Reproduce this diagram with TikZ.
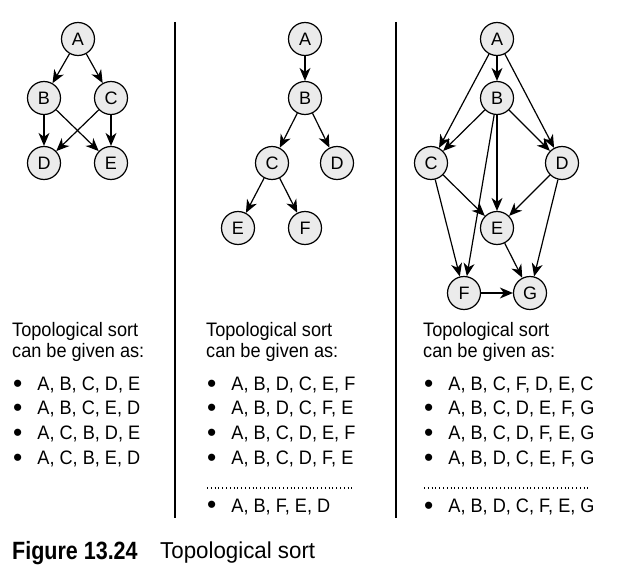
\documentclass[tikz,border=0pt]{standalone}
\usepackage{fontspec}
\setmainfont{Liberation Sans}
\usetikzlibrary{arrows.meta}
\newcommand{\nrw}[1]{\scalebox{0.93}[1]{#1}}
\newcommand{\bul}{\raisebox{-1.5pt}{\scalebox{1.35}{\textbullet}}\hspace{15pt}}
\begin{document}
\begin{tikzpicture}[x=1pt,y=-1pt,
  vert/.style={circle,draw,line width=1.2pt,fill=black!8,minimum size=33pt,inner sep=0pt,font=\fontsize{18}{18}\selectfont},
  edge/.style={line width=1.2pt,-{Stealth[length=13pt,width=11pt,inset=4pt]}},
  sep/.style={line width=1.2pt},
  txt/.style={anchor=west,inner sep=0pt,font=\fontsize{19.5}{19.5}\selectfont},
  dots/.style={line width=1.1pt,dash pattern=on 0.9pt off 2.9pt}]
\useasboundingbox (0,0) rectangle (637,578);
% separators
\coordinate (s1t) at (175,22); \coordinate (s1b) at (175,518);
\coordinate (s2t) at (396,22); \coordinate (s2b) at (396,518);
\draw[sep] (s1t) -- (s1b);
\draw[sep] (s2t) -- (s2b);
% panel 1
\node[vert] (a1) at (78,39) {A};
\node[vert] (b1) at (44,98) {B};
\node[vert] (c1) at (111,98) {C};
\node[vert] (d1) at (44,163) {D};
\node[vert] (e1) at (111,163) {E};
\draw[edge] (a1) -- (b1);
\draw[edge] (a1) -- (c1);
\draw[edge] (b1) -- (d1);
\draw[edge] (b1) -- (e1);
\draw[edge] (c1) -- (d1);
\draw[edge] (c1) -- (e1);
% panel 2
\node[vert] (a2) at (305,39) {A};
\node[vert] (b2) at (305,98) {B};
\node[vert] (c2) at (272,163) {C};
\node[vert] (d2) at (337,163) {D};
\node[vert] (e2) at (238,228) {E};
\node[vert] (f2) at (305,228) {F};
\draw[edge] (a2) -- (b2);
\draw[edge] (b2) -- (c2);
\draw[edge] (b2) -- (d2);
\draw[edge] (c2) -- (e2);
\draw[edge] (c2) -- (f2);
% panel 3
\node[vert] (a3) at (497,39) {A};
\node[vert] (b3) at (497,98) {B};
\node[vert] (c3) at (431,163) {C};
\node[vert] (d3) at (562,163) {D};
\node[vert] (e3) at (497,228) {E};
\node[vert] (f3) at (464,293) {F};
\node[vert] (g3) at (530,293) {G};
\draw[edge] (a3) -- (b3);
\draw[edge] (a3) -- (c3);
\draw[edge] (a3) -- (d3);
\draw[edge] (b3) -- (c3);
\draw[edge] (b3) -- (d3);
\draw[edge] (b3) -- (e3);
\draw[edge] (b3) -- (f3);
\draw[edge] (c3) -- (e3);
\draw[edge] (c3) -- (f3);
\draw[edge] (d3) -- (e3);
\draw[edge] (d3) -- (g3);
\draw[edge] (e3) -- (g3);
\draw[edge] (f3) -- (g3);
% texts panel 1
\node[txt] (h1a) at (12,331) {\nrw{Topological sort}};
\node[txt] (h1b) at (12,352) {\nrw{can be given as:}};
\node[txt] (p1a) at (13,385) {\bul\nrw{A, B, C, D, E}};
\node[txt] (p1b) at (13,409) {\bul\nrw{A, B, C, E, D}};
\node[txt] (p1c) at (13,434) {\bul\nrw{A, C, B, D, E}};
\node[txt] (p1d) at (13,459) {\bul\nrw{A, C, B, E, D}};
% texts panel 2
\node[txt] (h2a) at (206,331) {\nrw{Topological sort}};
\node[txt] (h2b) at (206,352) {\nrw{can be given as:}};
\node[txt] (p2a) at (207,385) {\bul\nrw{A, B, D, C, E, F}};
\node[txt] (p2b) at (207,409) {\bul\nrw{A, B, D, C, F, E}};
\node[txt] (p2c) at (207,434) {\bul\nrw{A, B, C, D, E, F}};
\node[txt] (p2d) at (207,459) {\bul\nrw{A, B, C, D, F, E}};
\coordinate (d2l) at (207,488); \coordinate (d2r) at (352,488);
\draw[dots] (d2l) -- (d2r);
\node[txt] (p2e) at (207,507) {\bul\nrw{A, B, F, E, D}};
% texts panel 3
\node[txt] (h3a) at (423,331) {\nrw{Topological sort}};
\node[txt] (h3b) at (423,352) {\nrw{can be given as:}};
\node[txt] (p3a) at (424,385) {\bul\nrw{A, B, C, F, D, E, C}};
\node[txt] (p3b) at (424,409) {\bul\nrw{A, B, C, D, E, F, G}};
\node[txt] (p3c) at (424,434) {\bul\nrw{A, B, C, D, F, E, G}};
\node[txt] (p3d) at (424,459) {\bul\nrw{A, B, D, C, E, F, G}};
\coordinate (d3l) at (424,488); \coordinate (d3r) at (590,488);
\draw[dots] (d3l) -- (d3r);
\node[txt] (p3e) at (424,507) {\bul\nrw{A, B, D, C, F, E, G}};
% caption
\node[anchor=west,inner sep=0pt,font=\fontsize{25}{25}\selectfont\bfseries] (cap1) at (12,553) {\scalebox{0.86}[1]{Figure 13.24}};
\node[anchor=west,inner sep=0pt,font=\fontsize{23}{23}\selectfont] (cap2) at (160,553) {\scalebox{0.97}[1]{Topological sort}};
\end{tikzpicture}
\end{document}
